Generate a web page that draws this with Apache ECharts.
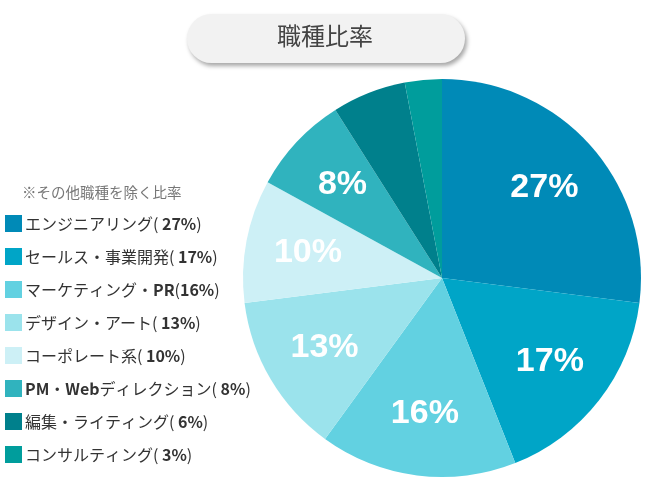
<!DOCTYPE html>
<html><head><meta charset="utf-8">
<script src="https://cdn.jsdelivr.net/npm/echarts@6/dist/echarts.min.js"></script>
<style>html,body{margin:0;padding:0;background:#fff}#c{width:650px;height:480px}</style>
</head><body><div id="c"></div>
<script>
const title = '職種比率';
const note = '※その他職種を除く比率';
const categories = ['エンジニアリング','セールス・事業開発','マーケティング・PR','デザイン・アート','コーポレート系','PM・Webディレクション','編集・ライティング','コンサルティング'];
const values = [27, 17, 16, 13, 10, 8, 6, 3];
const legendSuffix = ['( 27%)','( 17%)','(16%)','( 13%)','( 10%)','( 8%)','( 6%)','( 3%)'];
const colors = ['#008ab7','#00a5c7','#62d1e1','#9be3ec','#cdf0f6','#30b3be','#00808c','#009d9c'];

const chart = echarts.init(document.getElementById('c'), null, {renderer:'canvas'});
const data = categories.map((n,i)=>({name:n, value:values[i], itemStyle:{color:colors[i]}}));
function wrapAscii(s){
  return ('{a|' + s.replace(/([A-Za-z0-9%]+)/g, '}{b|$1}{a|') + '}').replace(/\{a\|\}/g,'');
}
chart.setOption({
  backgroundColor:'#fff',
  animation:false,
  graphic:[
    {type:'rect', left:187, top:14, shape:{width:278, height:49, r:24.5},
     style:{fill:'#f2f2f2', shadowBlur:4, shadowOffsetX:2, shadowOffsetY:3, shadowColor:'rgba(0,0,0,0.35)'}, z:10},
    {type:'text', left:'center', top:24, z:11,
     style:{text:title, fill:'#444', font:'24px "Noto Sans CJK JP"'}},
    {type:'text', left:22, top:185, style:{text:note, fill:'#777', font:'14.5px "Noto Sans CJK JP"'}}
  ],
  legend:{
    orient:'vertical', left:5, top:215, padding:0, itemWidth:17, itemHeight:17, itemGap:16,
    icon:'rect', selectedMode:false,
    formatter:function(name){
      const i = categories.indexOf(name);
      return wrapAscii(name + legendSuffix[i]);
    },
    textStyle:{
      padding:[0,0,0,-2],
      rich:{
        a:{fontFamily:'"Noto Sans CJK JP"', fontSize:16, color:'#333', lineHeight:18},
        b:{fontFamily:'"Noto Sans CJK JP"', fontSize:16, fontWeight:'bold', color:'#333', lineHeight:18}
      }
    },
    data:categories
  },
  series:[
    {type:'pie', center:[442,278], radius:[0,199], startAngle:90, clockwise:true,
     data:data, label:{show:false}, labelLine:{show:false}, emphasis:{disabled:true}},
    {type:'pie', center:[442,278], radius:[68,199], startAngle:90, clockwise:true, silent:true,
     data:data.map(d=>({name:d.name, value:d.value, itemStyle:{color:'rgba(0,0,0,0)'}})),
     legendHoverLink:false,
     label:{show:true, position:'inside', color:'#fff', fontFamily:'"Liberation Sans", Arial', fontWeight:'bold', fontSize:34,
       formatter:function(p){ return p.value>=7 ? p.value+'%' : ''; }},
     labelLine:{show:false}, emphasis:{disabled:true}}
  ]
});
</script></body></html>
